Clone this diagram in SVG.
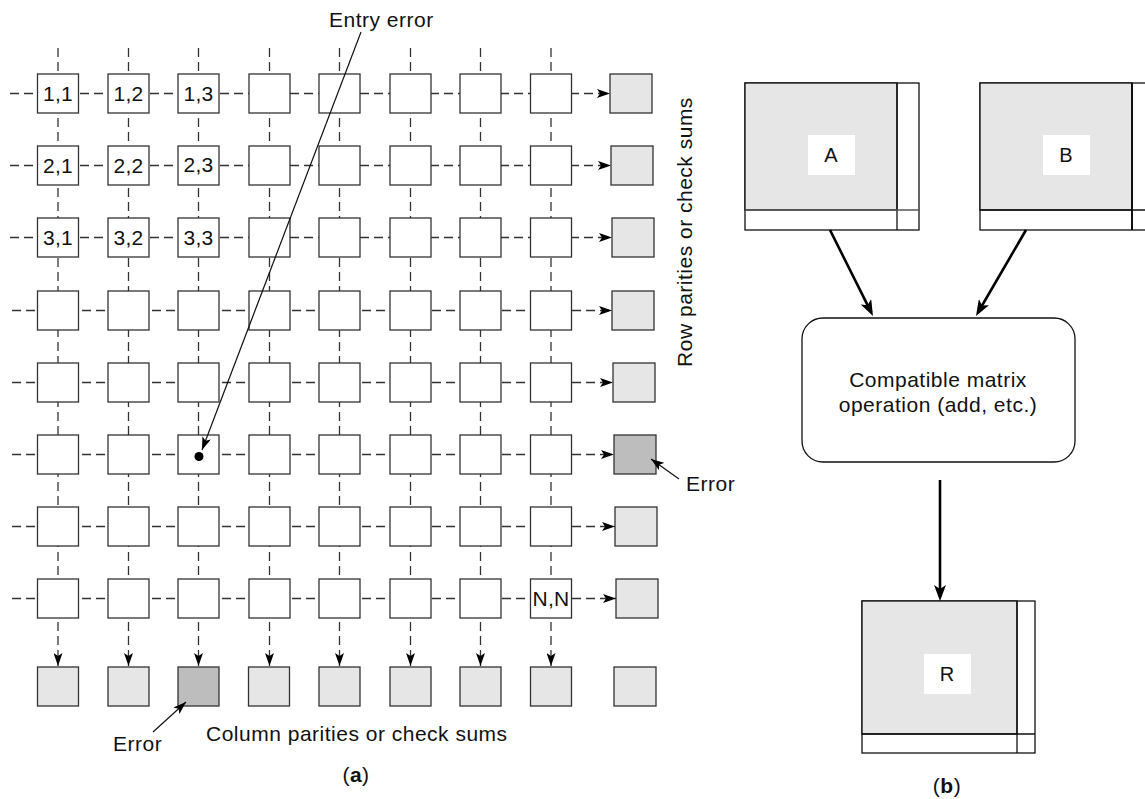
<svg xmlns="http://www.w3.org/2000/svg" width="1145" height="799" viewBox="0 0 1145 799">
  <style>
    .cell { fill: #fff; stroke: #333; stroke-width: 1.3; }
    .par { fill: #e6e6e6; stroke: #333; stroke-width: 1.3; }
    .bad { fill: #bdbdbd; stroke: #333; stroke-width: 1.3; }
    .dash { fill: none; stroke: #333; stroke-width: 1.3; stroke-dasharray: 9 5; }
    .thin { fill: none; stroke: #111; stroke-width: 1.2; }
    .thick { fill: none; stroke: #000; stroke-width: 2.6; }
    .mat { fill: #e6e6e6; stroke: #111; stroke-width: 1.3; }
    .strip { fill: #fff; stroke: #111; stroke-width: 1.3; }
    .op { fill: #fff; stroke: #111; stroke-width: 1.3; }
    text { font-family: "Liberation Sans", Arial, Helvetica, sans-serif; fill: #111; }
    .lbl { font-size: 21px; letter-spacing: 0.5px; }
    .cl { font-size: 21px; letter-spacing: 0.3px; text-anchor: middle; }
    .ml { font-size: 20px; text-anchor: middle; }
  </style>
  <defs>
    <marker id="ah" markerWidth="14" markerHeight="9" refX="13" refY="4.5" orient="auto" markerUnits="userSpaceOnUse">
      <path d="M0,0 L13,4.5 L0,9 L3,4.5 z" fill="#000"/>
    </marker>
    <marker id="big" markerWidth="17" markerHeight="12" refX="12" refY="6" orient="auto" markerUnits="userSpaceOnUse">
      <path d="M0,0 L16,6 L0,12 L4,6 z" fill="#000"/>
    </marker>
  </defs>

  <!-- dashed wiring of the grid (under the cells) -->
  <g id="connectors">
    <g id="row-wires" class="dash">
      <line x1="10" y1="93.5" x2="610" y2="93.5" marker-end="url(#ah)"/>
      <line x1="10" y1="165.5" x2="611" y2="165.5" marker-end="url(#ah)"/>
      <line x1="10" y1="237.5" x2="612" y2="237.5" marker-end="url(#ah)"/>
      <line x1="12" y1="310.5" x2="612" y2="310.5" marker-end="url(#ah)"/>
      <line x1="12" y1="382.5" x2="613" y2="382.5" marker-end="url(#ah)"/>
      <line x1="12" y1="454.5" x2="614" y2="454.5" marker-end="url(#ah)"/>
      <line x1="12" y1="526.5" x2="615" y2="526.5" marker-end="url(#ah)"/>
      <line x1="12" y1="598.5" x2="616" y2="598.5" marker-end="url(#ah)"/>
    </g>
    <g id="col-wires" class="dash">
      <line x1="58" y1="48" x2="58" y2="666" marker-end="url(#ah)"/>
      <line x1="128.5" y1="48" x2="128.5" y2="666" marker-end="url(#ah)"/>
      <line x1="198.5" y1="48" x2="198.5" y2="666" marker-end="url(#ah)"/>
      <line x1="269.5" y1="48" x2="269.5" y2="666" marker-end="url(#ah)"/>
      <line x1="339.5" y1="48" x2="339.5" y2="666" marker-end="url(#ah)"/>
      <line x1="410.5" y1="48" x2="410.5" y2="666" marker-end="url(#ah)"/>
      <line x1="480.5" y1="48" x2="480.5" y2="666" marker-end="url(#ah)"/>
      <line x1="551" y1="48" x2="551" y2="666" marker-end="url(#ah)"/>
    </g>
  </g>

  <!-- row 1 -->
  <g id="c1-1"><rect class="cell" x="37.5" y="74" width="41" height="39"/><text class="cl" x="58" y="101">1,1</text></g>
  <g id="c1-2"><rect class="cell" x="108" y="74" width="41" height="39"/><text class="cl" x="128.5" y="101">1,2</text></g>
  <g id="c1-3"><rect class="cell" x="178" y="74" width="41" height="39"/><text class="cl" x="198.5" y="101">1,3</text></g>
  <g id="c1-4"><rect class="cell" x="249" y="74" width="41" height="39"/></g>
  <g id="c1-5"><rect class="cell" x="319" y="74" width="41" height="39"/></g>
  <g id="c1-6"><rect class="cell" x="390" y="74" width="41" height="39"/></g>
  <g id="c1-7"><rect class="cell" x="460" y="74" width="41" height="39"/></g>
  <g id="c1-8"><rect class="cell" x="530.5" y="74" width="41" height="39"/></g>
  <!-- row 2 -->
  <g id="c2-1"><rect class="cell" x="37.5" y="146" width="41" height="39"/><text class="cl" x="58" y="173">2,1</text></g>
  <g id="c2-2"><rect class="cell" x="108" y="146" width="41" height="39"/><text class="cl" x="128.5" y="173">2,2</text></g>
  <g id="c2-3"><rect class="cell" x="178" y="146" width="41" height="39"/><text class="cl" x="198.5" y="172">2,3</text></g>
  <g id="c2-4"><rect class="cell" x="249" y="146" width="41" height="39"/></g>
  <g id="c2-5"><rect class="cell" x="319" y="146" width="41" height="39"/></g>
  <g id="c2-6"><rect class="cell" x="390" y="146" width="41" height="39"/></g>
  <g id="c2-7"><rect class="cell" x="460" y="146" width="41" height="39"/></g>
  <g id="c2-8"><rect class="cell" x="530.5" y="146" width="41" height="39"/></g>
  <!-- row 3 -->
  <g id="c3-1"><rect class="cell" x="37.5" y="218" width="41" height="39"/><text class="cl" x="58" y="245">3,1</text></g>
  <g id="c3-2"><rect class="cell" x="108" y="218" width="41" height="39"/><text class="cl" x="128.5" y="245">3,2</text></g>
  <g id="c3-3"><rect class="cell" x="178" y="218" width="41" height="39"/><text class="cl" x="198.5" y="245">3,3</text></g>
  <g id="c3-4"><rect class="cell" x="249" y="218" width="41" height="39"/></g>
  <g id="c3-5"><rect class="cell" x="319" y="218" width="41" height="39"/></g>
  <g id="c3-6"><rect class="cell" x="390" y="218" width="41" height="39"/></g>
  <g id="c3-7"><rect class="cell" x="460" y="218" width="41" height="39"/></g>
  <g id="c3-8"><rect class="cell" x="530.5" y="218" width="41" height="39"/></g>
  <!-- row 4 -->
  <g id="c4-1"><rect class="cell" x="37.5" y="291" width="41" height="39"/></g>
  <g id="c4-2"><rect class="cell" x="108" y="291" width="41" height="39"/></g>
  <g id="c4-3"><rect class="cell" x="178" y="291" width="41" height="39"/></g>
  <g id="c4-4"><rect class="cell" x="249" y="291" width="41" height="39"/></g>
  <g id="c4-5"><rect class="cell" x="319" y="291" width="41" height="39"/></g>
  <g id="c4-6"><rect class="cell" x="390" y="291" width="41" height="39"/></g>
  <g id="c4-7"><rect class="cell" x="460" y="291" width="41" height="39"/></g>
  <g id="c4-8"><rect class="cell" x="530.5" y="291" width="41" height="39"/></g>
  <!-- row 5 -->
  <g id="c5-1"><rect class="cell" x="37.5" y="363" width="41" height="39"/></g>
  <g id="c5-2"><rect class="cell" x="108" y="363" width="41" height="39"/></g>
  <g id="c5-3"><rect class="cell" x="178" y="363" width="41" height="39"/></g>
  <g id="c5-4"><rect class="cell" x="249" y="363" width="41" height="39"/></g>
  <g id="c5-5"><rect class="cell" x="319" y="363" width="41" height="39"/></g>
  <g id="c5-6"><rect class="cell" x="390" y="363" width="41" height="39"/></g>
  <g id="c5-7"><rect class="cell" x="460" y="363" width="41" height="39"/></g>
  <g id="c5-8"><rect class="cell" x="530.5" y="363" width="41" height="39"/></g>
  <!-- row 6 -->
  <g id="c6-1"><rect class="cell" x="37.5" y="435" width="41" height="39"/></g>
  <g id="c6-2"><rect class="cell" x="108" y="435" width="41" height="39"/></g>
  <g id="c6-3"><rect class="cell" x="178" y="435" width="41" height="39"/><circle cx="199" cy="456.5" r="4.5" fill="#000"/></g>
  <g id="c6-4"><rect class="cell" x="249" y="435" width="41" height="39"/></g>
  <g id="c6-5"><rect class="cell" x="319" y="435" width="41" height="39"/></g>
  <g id="c6-6"><rect class="cell" x="390" y="435" width="41" height="39"/></g>
  <g id="c6-7"><rect class="cell" x="460" y="435" width="41" height="39"/></g>
  <g id="c6-8"><rect class="cell" x="530.5" y="435" width="41" height="39"/></g>
  <!-- row 7 -->
  <g id="c7-1"><rect class="cell" x="37.5" y="507" width="41" height="39"/></g>
  <g id="c7-2"><rect class="cell" x="108" y="507" width="41" height="39"/></g>
  <g id="c7-3"><rect class="cell" x="178" y="507" width="41" height="39"/></g>
  <g id="c7-4"><rect class="cell" x="249" y="507" width="41" height="39"/></g>
  <g id="c7-5"><rect class="cell" x="319" y="507" width="41" height="39"/></g>
  <g id="c7-6"><rect class="cell" x="390" y="507" width="41" height="39"/></g>
  <g id="c7-7"><rect class="cell" x="460" y="507" width="41" height="39"/></g>
  <g id="c7-8"><rect class="cell" x="530.5" y="507" width="41" height="39"/></g>
  <!-- row 8 -->
  <g id="c8-1"><rect class="cell" x="37.5" y="579" width="41" height="39"/></g>
  <g id="c8-2"><rect class="cell" x="108" y="579" width="41" height="39"/></g>
  <g id="c8-3"><rect class="cell" x="178" y="579" width="41" height="39"/></g>
  <g id="c8-4"><rect class="cell" x="249" y="579" width="41" height="39"/></g>
  <g id="c8-5"><rect class="cell" x="319" y="579" width="41" height="39"/></g>
  <g id="c8-6"><rect class="cell" x="390" y="579" width="41" height="39"/></g>
  <g id="c8-7"><rect class="cell" x="460" y="579" width="41" height="39"/></g>
  <g id="c8-8"><rect class="cell" x="530.5" y="579" width="41" height="39"/><text class="cl" x="551" y="606">N,N</text></g>

  <!-- row parity boxes -->
  <g id="rp1"><rect class="par" x="610" y="74" width="42" height="39"/></g>
  <g id="rp2"><rect class="par" x="611" y="146" width="42" height="39"/></g>
  <g id="rp3"><rect class="par" x="612" y="218" width="42" height="39"/></g>
  <g id="rp4"><rect class="par" x="612" y="291" width="42" height="39"/></g>
  <g id="rp5"><rect class="par" x="613" y="363" width="42" height="39"/></g>
  <g id="rp6"><rect class="bad" x="614" y="435" width="42" height="39"/></g>
  <g id="rp7"><rect class="par" x="615" y="507" width="42" height="39"/></g>
  <g id="rp8"><rect class="par" x="616" y="579" width="42" height="39"/></g>

  <!-- column parity boxes -->
  <g id="cp1"><rect class="par" x="37.5" y="667" width="41" height="39"/></g>
  <g id="cp2"><rect class="par" x="108" y="667" width="41" height="39"/></g>
  <g id="cp3"><rect class="bad" x="178" y="667" width="41" height="39"/></g>
  <g id="cp4"><rect class="par" x="248.5" y="667" width="41" height="39"/></g>
  <g id="cp5"><rect class="par" x="319" y="667" width="41" height="39"/></g>
  <g id="cp6"><rect class="par" x="390" y="667" width="41" height="39"/></g>
  <g id="cp7"><rect class="par" x="460" y="667" width="41" height="39"/></g>
  <g id="cp8"><rect class="par" x="530.5" y="667" width="41" height="39"/></g>
  <g id="cp9"><rect class="par" x="614" y="667" width="42" height="39"/></g>

  <!-- callouts -->
  <g id="callouts">
    <text class="lbl" x="329" y="27">Entry error</text>
    <line class="thin" x1="361" y1="32" x2="202" y2="450" marker-end="url(#ah)"/>
    <text class="lbl" x="686" y="491">Error</text>
    <line class="thin" x1="679" y1="479" x2="651" y2="459" marker-end="url(#ah)"/>
    <text class="lbl" x="113" y="751">Error</text>
    <line class="thin" x1="153" y1="732" x2="186" y2="702" marker-end="url(#ah)"/>
    <text class="lbl" x="206" y="741">Column parities or check sums</text>
    <text class="lbl" transform="translate(692 232) rotate(-90)" text-anchor="middle">Row parities or check sums</text>
    <text class="lbl" x="356" y="782" text-anchor="middle">(<tspan font-weight="bold">a</tspan>)</text>
  </g>

  <!-- (b): checksum-extended matrices -->
  <g id="matA">
    <rect class="strip" x="745" y="83" width="174" height="147"/>
    <rect class="mat" x="745" y="83" width="152" height="127"/>
    <line x1="897" y1="83" x2="897" y2="230" stroke="#111" stroke-width="1.3"/>
    <line x1="745" y1="210" x2="919" y2="210" stroke="#555" stroke-width="1.3"/>
    <rect x="808" y="135" width="47" height="40" fill="#fff"/>
    <text class="ml" x="831" y="162">A</text>
  </g>
  <g id="matB">
    <rect class="strip" x="980" y="83" width="174" height="147"/>
    <rect class="mat" x="980" y="83" width="152" height="127"/>
    <line x1="1132" y1="83" x2="1132" y2="230" stroke="#111" stroke-width="2"/>
    <line x1="980" y1="210" x2="1154" y2="210" stroke="#111" stroke-width="1.3"/>
    <rect x="1043" y="135" width="47" height="40" fill="#fff"/>
    <text class="ml" x="1066" y="162">B</text>
  </g>
  <g id="op">
    <rect class="op" x="802" y="318" width="273" height="144" rx="21"/>
    <text class="lbl" x="938" y="387" text-anchor="middle">Compatible matrix</text>
    <text class="lbl" x="938" y="412" text-anchor="middle">operation (add, etc.)</text>
  </g>
  <g id="matR">
    <rect class="strip" x="862" y="601" width="173" height="152"/>
    <rect class="mat" x="862" y="601" width="155" height="133"/>
    <line x1="1017" y1="601" x2="1017" y2="753" stroke="#111" stroke-width="1.3"/>
    <line x1="862" y1="734" x2="1035" y2="734" stroke="#111" stroke-width="1.3"/>
    <rect x="924" y="654" width="47" height="40" fill="#fff"/>
    <text class="ml" x="947" y="681">R</text>
  </g>
  <g id="flow">
    <line class="thick" x1="830" y1="230" x2="871.2" y2="312.4" marker-end="url(#big)"/>
    <line class="thick" x1="1026" y1="230" x2="978" y2="312.5" marker-end="url(#big)"/>
    <line class="thick" x1="940" y1="480" x2="940" y2="597" marker-end="url(#big)"/>
  </g>
  <text class="lbl" x="947" y="793" text-anchor="middle">(<tspan font-weight="bold">b</tspan>)</text>
</svg>
